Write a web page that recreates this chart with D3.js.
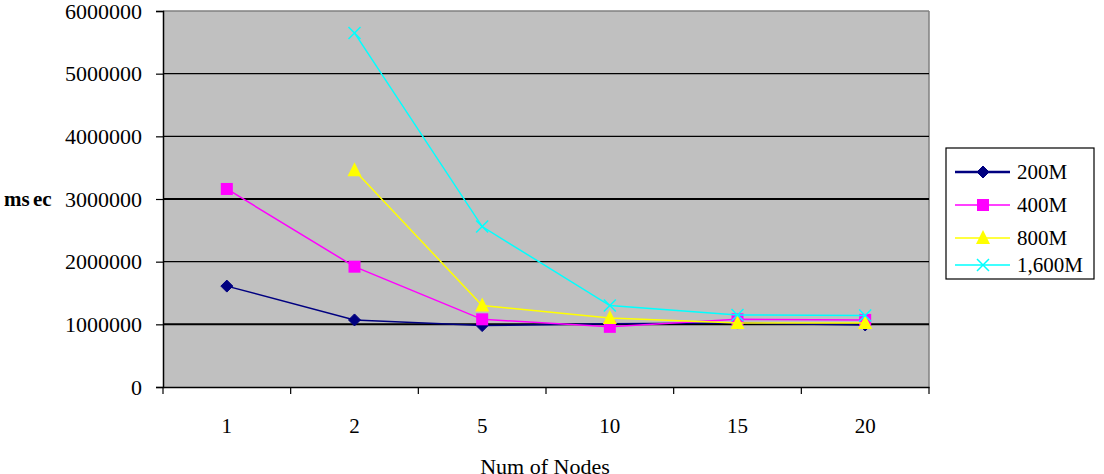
<!DOCTYPE html>
<html><head><meta charset="utf-8">
<script src="https://cdn.jsdelivr.net/npm/d3@7"></script>
<style>body{margin:0;background:#fff}svg{display:block}text{font-family:"Liberation Serif","Times New Roman",serif;fill:#000}</style>
</head><body>
<svg id="c" width="1104" height="474"></svg>
<script>
const categories = ["1","2","5","10","15","20"];
const seriesNames = ["200M","400M","800M","1,600M"];
const s200 = [1610000,1070000,980000,1010000,1020000,990000];
const s400 = [3160000,1920000,1080000,960000,1080000,1070000];
const s800 = [null,3460000,1300000,1100000,1020000,1020000];
const s1600 = [null,5650000,2560000,1300000,1150000,1140000];
const yTicks = [0,1000000,2000000,3000000,4000000,5000000,6000000];
const colors = ["#000080","#ff00ff","#ffff00","#00ffff"];
const shapes = ["diamond","square","triangle","x"];
const allSeries = [s200,s400,s800,s1600];

const svg = d3.select("#c");
const L=163,R=929,T=11,B=387;
const x = d3.scaleBand().domain(categories).range([L,R]);
const y = d3.scaleLinear().domain([0,6000000]).range([B,T]);

svg.append("rect").attr("x",L).attr("y",T).attr("width",R-L).attr("height",B-T).attr("fill","#c0c0c0");
svg.append("line").attr("x1",L).attr("x2",R).attr("y1",T).attr("y2",T).attr("stroke","#808080").attr("stroke-width",1.5);
svg.append("line").attr("x1",R).attr("x2",R).attr("y1",T).attr("y2",B).attr("stroke","#808080").attr("stroke-width",1.5);

// gridlines
svg.append("g").selectAll("line").data(yTicks.slice(1,-1)).join("line")
  .attr("x1",L).attr("x2",R).attr("y1",d=>y(d)).attr("y2",d=>y(d))
  .attr("stroke","#000").attr("stroke-width",d=>(d===1000000||d===3000000)?2:1.2);

// y axis
const ya = svg.append("g").attr("transform",`translate(${L},0)`)
  .call(d3.axisLeft(y).tickValues(yTicks).tickFormat(d3.format("d")).tickSizeOuter(0).tickSize(7).tickPadding(14));
ya.select(".domain").attr("stroke","#000").attr("stroke-width",1.5);
ya.selectAll(".tick line").attr("stroke","#000").attr("stroke-width",1.2);
ya.selectAll("text").style("font-family","Liberation Serif").style("font-size","22px").attr("fill","#000");

// x axis
const xa = svg.append("g").attr("transform",`translate(0,${B})`)
  .call(d3.axisBottom(x).tickSize(0).tickPadding(31).tickSizeOuter(0));
xa.select(".domain").attr("stroke","#000").attr("stroke-width",1.5);
xa.selectAll("text").style("font-family","Liberation Serif").style("font-size","21px").attr("fill","#000");
const bounds = categories.map(c=>x(c)).concat([R]);
svg.append("g").selectAll("line").data(bounds).join("line")
  .attr("x1",d=>d).attr("x2",d=>d).attr("y1",B).attr("y2",B+7).attr("stroke","#000").attr("stroke-width",1.2);

const cx = c => x(c)+x.bandwidth()/2;

function marker(g, shape, color, px, py){
  if(shape==="diamond"){
    g.append("path").attr("d",`M${px},${py-6}L${px+6},${py}L${px},${py+6}L${px-6},${py}Z`).attr("fill",color).attr("stroke",color);
  } else if(shape==="square"){
    g.append("rect").attr("x",px-6).attr("y",py-6).attr("width",12).attr("height",12).attr("fill",color);
  } else if(shape==="triangle"){
    g.append("path").attr("d",`M${px},${py-8}L${px+7},${py+6}L${px-7},${py+6}Z`).attr("fill",color);
  } else {
    g.append("path").attr("d",`M${px-6},${py-6}L${px+6},${py+6}M${px-6},${py+6}L${px+6},${py-6}`).attr("stroke",color).attr("stroke-width",1.5).attr("fill","none");
  }
}

allSeries.forEach((vals,i)=>{
  const pts = categories.map((c,j)=>({c,v:vals[j]})).filter(d=>d.v!=null);
  const g = svg.append("g");
  g.append("path").datum(pts)
    .attr("d",d3.line().x(d=>cx(d.c)).y(d=>y(d.v)))
    .attr("fill","none").attr("stroke",colors[i]).attr("stroke-width",1.5);
  pts.forEach(d=>marker(g,shapes[i],colors[i],cx(d.c),y(d.v)));
});

// y title
svg.append("text").attr("x",4).attr("y",y(3000000)+7).text("ms ec")
  .style("font-size","21px").style("font-weight","bold").style("word-spacing","-2px");
// x title
svg.append("text").attr("x",545).attr("y",474).attr("text-anchor","middle").text("Num of Nodes").style("font-size","22px");

// legend
const lg = svg.append("g");
lg.append("rect").attr("x",946).attr("y",148).attr("width",148).attr("height",131)
  .attr("fill","#fff").attr("stroke","#000").attr("stroke-width",1.2);
const rows=[172,205,238,265];
seriesNames.forEach((n,i)=>{
  const ry=rows[i];
  lg.append("line").attr("x1",955).attr("x2",1010).attr("y1",ry).attr("y2",ry)
    .attr("stroke",colors[i]).attr("stroke-width",i===0?2.5:1.5);
  marker(lg,shapes[i],colors[i],983,ry);
  lg.append("text").attr("x",1017).attr("y",ry+7).text(n).style("font-size","21px");
});
</script>
</body></html>
